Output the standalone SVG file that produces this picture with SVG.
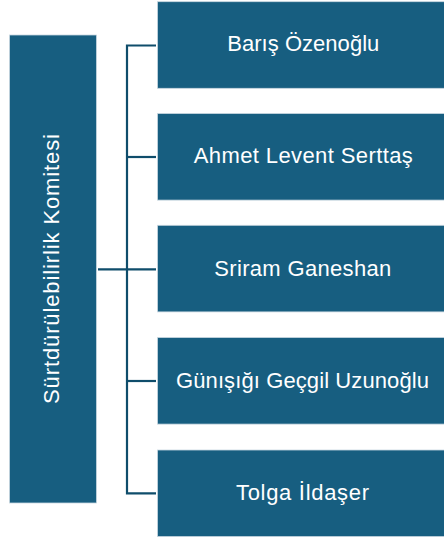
<svg xmlns="http://www.w3.org/2000/svg" width="444" height="537" viewBox="0 0 444 537">
<style>
.box{fill:#175E80;stroke:#c9d8e0;stroke-width:0.8}
.lbl{fill:#ffffff;font-family:"Liberation Sans",Arial,sans-serif;font-size:22px;text-anchor:middle}
.conn{fill:none;stroke:#0f4d6b;stroke-width:2.2}
</style>
<rect width="444" height="537" fill="#ffffff"/>
<g id="connectors">
<path class="conn" d="M98 269.3H156"/>
<path class="conn" d="M156 45.5H127V493.3H156"/>
<path class="conn" d="M127 157H156"/>
<path class="conn" d="M127 381H156"/>
</g>
<g id="committee">
<rect class="box" x="9.5" y="35" width="87" height="468"/>
<text class="lbl" x="59.3" y="269" transform="rotate(-90 59.3 269)" textLength="270" lengthAdjust="spacing">Sürtdürülebilirlik Komitesi</text>
</g>
<g id="m1">
<rect class="box" x="157.5" y="1.7" width="287" height="86.6"/>
<text class="lbl" x="303.3" y="51.3" textLength="152" lengthAdjust="spacing">Barış Özenoğlu</text>
</g>
<g id="m2">
<rect class="box" x="157.5" y="113.5" width="287" height="86.6"/>
<text class="lbl" x="303.3" y="163.3" textLength="219" lengthAdjust="spacing">Ahmet Levent Serttaş</text>
</g>
<g id="m3">
<rect class="box" x="157.5" y="225.3" width="287" height="86.6"/>
<text class="lbl" x="302.8" y="276" textLength="177" lengthAdjust="spacing">Sriram Ganeshan</text>
</g>
<g id="m4">
<rect class="box" x="157.5" y="337.5" width="287" height="86.6"/>
<text class="lbl" x="302.5" y="388" textLength="253" lengthAdjust="spacing">Günışığı Geçgil Uzunoğlu</text>
</g>
<g id="m5">
<rect class="box" x="157.5" y="450" width="287" height="86.6"/>
<text class="lbl" x="302.5" y="500.3" textLength="133" lengthAdjust="spacing">Tolga İldaşer</text>
</g>
</svg>
